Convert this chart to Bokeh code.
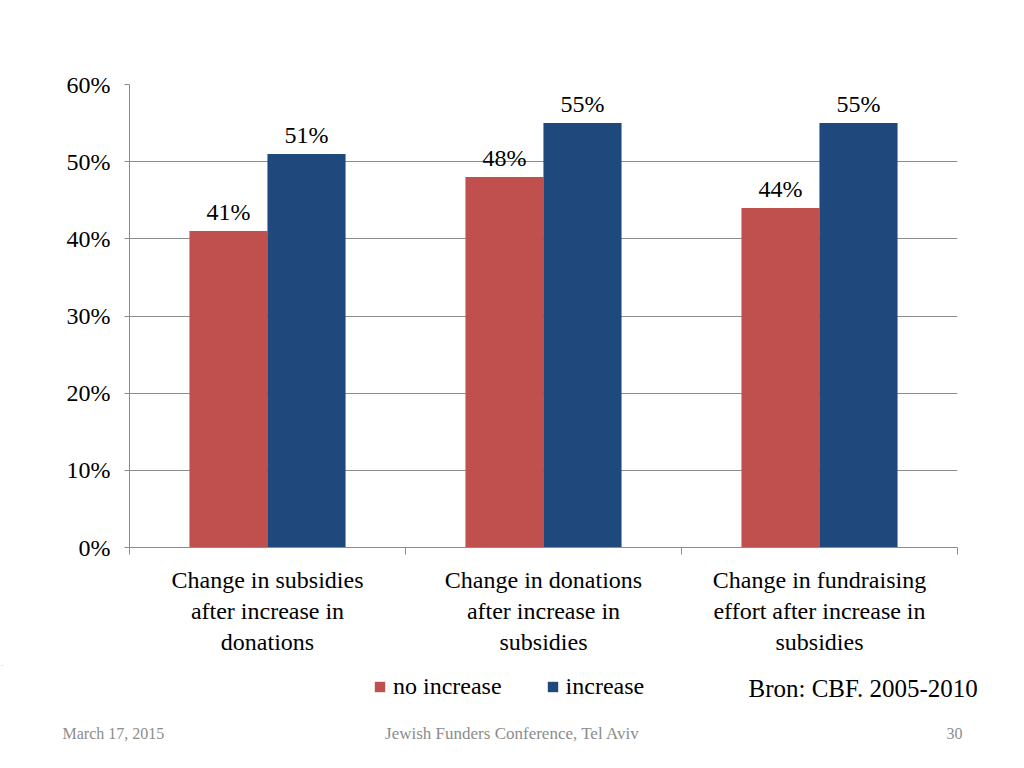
from bokeh.plotting import figure
from bokeh.layouts import column
from bokeh.models import (Range1d, FixedTicker, PrintfTickFormatter, ColumnDataSource,
                          Legend, LegendItem, Label, LabelSet)
from bokeh.embed import file_html
from bokeh.resources import INLINE

categories = ["Change in subsidies\nafter increase in\ndonations",
              "Change in donations\nafter increase in\nsubsidies",
              "Change in fundraising\neffort after increase in\nsubsidies"]
series_names = ["no increase", "increase"]
no_increase = [41, 48, 44]
increase = [51, 55, 55]
y_ticks = [0, 10, 20, 30, 40, 50, 60]
source_note = "Bron: CBF. 2005-2010"
footer = ["March 17, 2015", "Jewish Funders Conference, Tel Aviv", "30"]

FONT = "Liberation Serif"
RED = "#C0504D"
BLUE = "#1F497D"
GRID = "#8c8c8c"
FOOT = "#8c8c8c"

W = 1008
H_MAIN = 665
H_FOOT = 752 - H_MAIN

p = figure(width=W, height=H_MAIN, output_backend="svg", toolbar_location=None,
           x_range=Range1d(0, 3), y_range=Range1d(0, 60),
           min_border_left=129, min_border_right=51, min_border_top=84,
           min_border_bottom=H_MAIN - 547)
p.frame_align = False
p.outline_line_color = None
p.xgrid.grid_line_color = None
p.ygrid.grid_line_color = GRID
p.ygrid.ticker = FixedTicker(ticks=y_ticks)

centers = [i + 0.5 for i in range(len(categories))]
off = 0.1413
bw = 0.283
src = ColumnDataSource(dict(
    xr=[c - off for c in centers], xb=[c + off for c in centers],
    r=no_increase, b=increase,
    rl=[f"{v}%" for v in no_increase], bl=[f"{v}%" for v in increase]))

p.vbar(x="xr", top="r", width=bw, source=src, color=RED, line_color=None)
p.vbar(x="xb", top="b", width=bw, source=src, color=BLUE, line_color=None)

for xc, yc, tc in (("xr", "r", "rl"), ("xb", "b", "bl")):
    ls = LabelSet(x=xc, y=yc, text=tc, source=src, text_align="center",
                  text_baseline="bottom", y_offset=6, text_font=FONT,
                  text_font_size="24px", text_color="#000000")
    p.add_layout(ls)

xa = p.xaxis[0]
xa.ticker = FixedTicker(ticks=centers, minor_ticks=[0, 1, 2, 3])
xa.major_label_overrides = {c: categories[i] for i, c in enumerate(centers)}
xa.major_tick_line_color = None
xa.minor_tick_line_color = GRID
xa.minor_tick_out = 7
xa.minor_tick_in = 0
xa.axis_line_color = GRID
xa.major_label_text_font = FONT
xa.major_label_text_font_size = "24px"
xa.major_label_text_color = "#000000"
xa.major_label_standoff = 12

ya = p.yaxis[0]
ya.ticker = FixedTicker(ticks=y_ticks)
ya.formatter = PrintfTickFormatter(format="%d%%")
ya.axis_line_color = GRID
ya.major_tick_line_color = GRID
ya.major_tick_out = 5
ya.major_tick_in = 0
ya.minor_tick_line_color = None
ya.major_label_text_font = FONT
ya.major_label_text_font_size = "24px"
ya.major_label_text_color = "#000000"
ya.major_label_standoff = 14

# footer strip (legend, source note, slide footer)
f = figure(width=W, height=H_FOOT, output_backend="svg", toolbar_location=None,
           x_range=Range1d(0, W), y_range=Range1d(752, H_MAIN),
           min_border=0, min_border_left=0, min_border_right=0,
           min_border_top=0, min_border_bottom=0)
f.frame_align = False
f.axis.visible = False
f.grid.visible = False
f.outline_line_color = None
# legend proxies: same series, lying outside this strip's visible range
lr1 = f.vbar(x="xr", top="r", width=bw, source=src, color=RED, line_color=None)
lr2 = f.vbar(x="xb", top="b", width=bw, source=src, color=BLUE, line_color=None)
legend = Legend(items=[LegendItem(label=series_names[0], renderers=[lr1], index=0),
                       LegendItem(label=series_names[1], renderers=[lr2], index=0)],
                orientation="horizontal", location=(373, 52),
                glyph_width=13, glyph_height=13, label_standoff=7, spacing=44,
                padding=0, margin=0, border_line_color=None, background_fill_alpha=0,
                label_text_font=FONT, label_text_font_size="24px", label_text_color="#000000")
f.add_layout(legend, "center")

f.add_layout(Label(x=748, y=688, text=source_note, text_baseline="middle",
                   text_font=FONT, text_font_size="25px", text_color="#000000"))
f.add_layout(Label(x=62, y=733, text=footer[0], text_baseline="middle",
                   text_font=FONT, text_font_size="16px", text_color=FOOT))
f.add_layout(Label(x=512, y=733, text=footer[1], text_align="center", text_baseline="middle",
                   text_font=FONT, text_font_size="17px", text_color=FOOT))
f.add_layout(Label(x=962, y=733, text=footer[2], text_align="right", text_baseline="middle",
                   text_font=FONT, text_font_size="16px", text_color=FOOT))

open("out.html", "w").write(file_html(column(p, f), INLINE))
